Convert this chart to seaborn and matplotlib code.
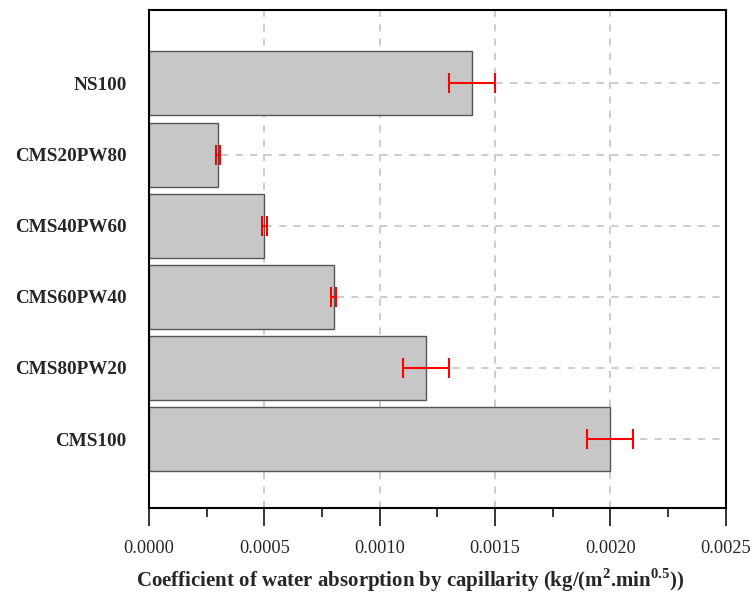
import numpy as np
import pandas as pd
import matplotlib
matplotlib.use("Agg")
import matplotlib.pyplot as plt
from matplotlib.ticker import MultipleLocator
import seaborn as sns

# Data (top to bottom)
samples = ["NS100", "CMS20PW80", "CMS40PW60", "CMS60PW40", "CMS80PW20", "CMS100"]
coef = [0.0014, 0.0003, 0.0005, 0.0008, 0.0012, 0.0020]
coef_err = [0.0001, 0.00001, 0.00001, 0.00001, 0.0001, 0.0001]

df = pd.DataFrame({"Sample": samples, "Coef": coef, "Err": coef_err})

sns.set_style("white")
plt.rcParams["font.family"] = ["Liberation Serif", "DejaVu Serif"]
plt.rcParams["mathtext.fontset"] = "custom"
plt.rcParams["mathtext.rm"] = "Liberation Serif"
plt.rcParams["mathtext.bf"] = "Liberation Serif:bold"

fig = plt.figure(figsize=(7.56, 5.95), dpi=100)
ax = fig.add_axes([0.197, 0.146, 0.763, 0.837])

sns.barplot(data=df, x="Coef", y="Sample", orient="h", color="#c7c7c7",
            edgecolor="#555555", linewidth=1.0, width=0.9, saturation=1, ax=ax)

# Error bars
pos = np.arange(len(samples))
ax.errorbar(df["Coef"], pos, xerr=df["Err"], fmt="none", ecolor="red",
            elinewidth=1.5, capsize=7, capthick=1.5, zorder=4)

# Axes styling
ax.set_xlim(0, 0.0025)
ax.set_ylim(len(samples) - 0.03, -1.03)
ax.xaxis.set_major_locator(MultipleLocator(0.0005))
ax.xaxis.set_minor_locator(MultipleLocator(0.00025))
ax.set_xticks(np.arange(0, 0.00251, 0.0005))
ax.set_xticklabels([f"{v:.4f}" for v in np.arange(0, 0.00251, 0.0005)])

ax.set_axisbelow(True)
ax.grid(True, which="major", axis="both", color="#c8c8c8", linestyle=(0, (4, 4)), linewidth=1.3)

for s in ax.spines.values():
    s.set_visible(True)
    s.set_color("black")
    s.set_linewidth(1.5)

ax.tick_params(axis="x", which="major", direction="out", length=13, width=1.3,
               labelsize=13.2, pad=10, bottom=True)
ax.tick_params(axis="x", which="minor", direction="out", length=6.5, width=1.3, bottom=True)
ax.tick_params(axis="y", length=0, pad=16, labelsize=13.8)
for lbl in ax.get_yticklabels():
    lbl.set_fontweight("bold")

ax.set_ylabel("")
ax.set_xlabel(r"Coefficient of water absorption by capillarity (kg/(m$^{\mathbf{2}}$.min$^{\mathbf{0.5}}$))",
              fontsize=15, fontweight="bold")
ax.xaxis.set_label_coords(0.452, -0.118)

fig.savefig("out.png", dpi=100)
